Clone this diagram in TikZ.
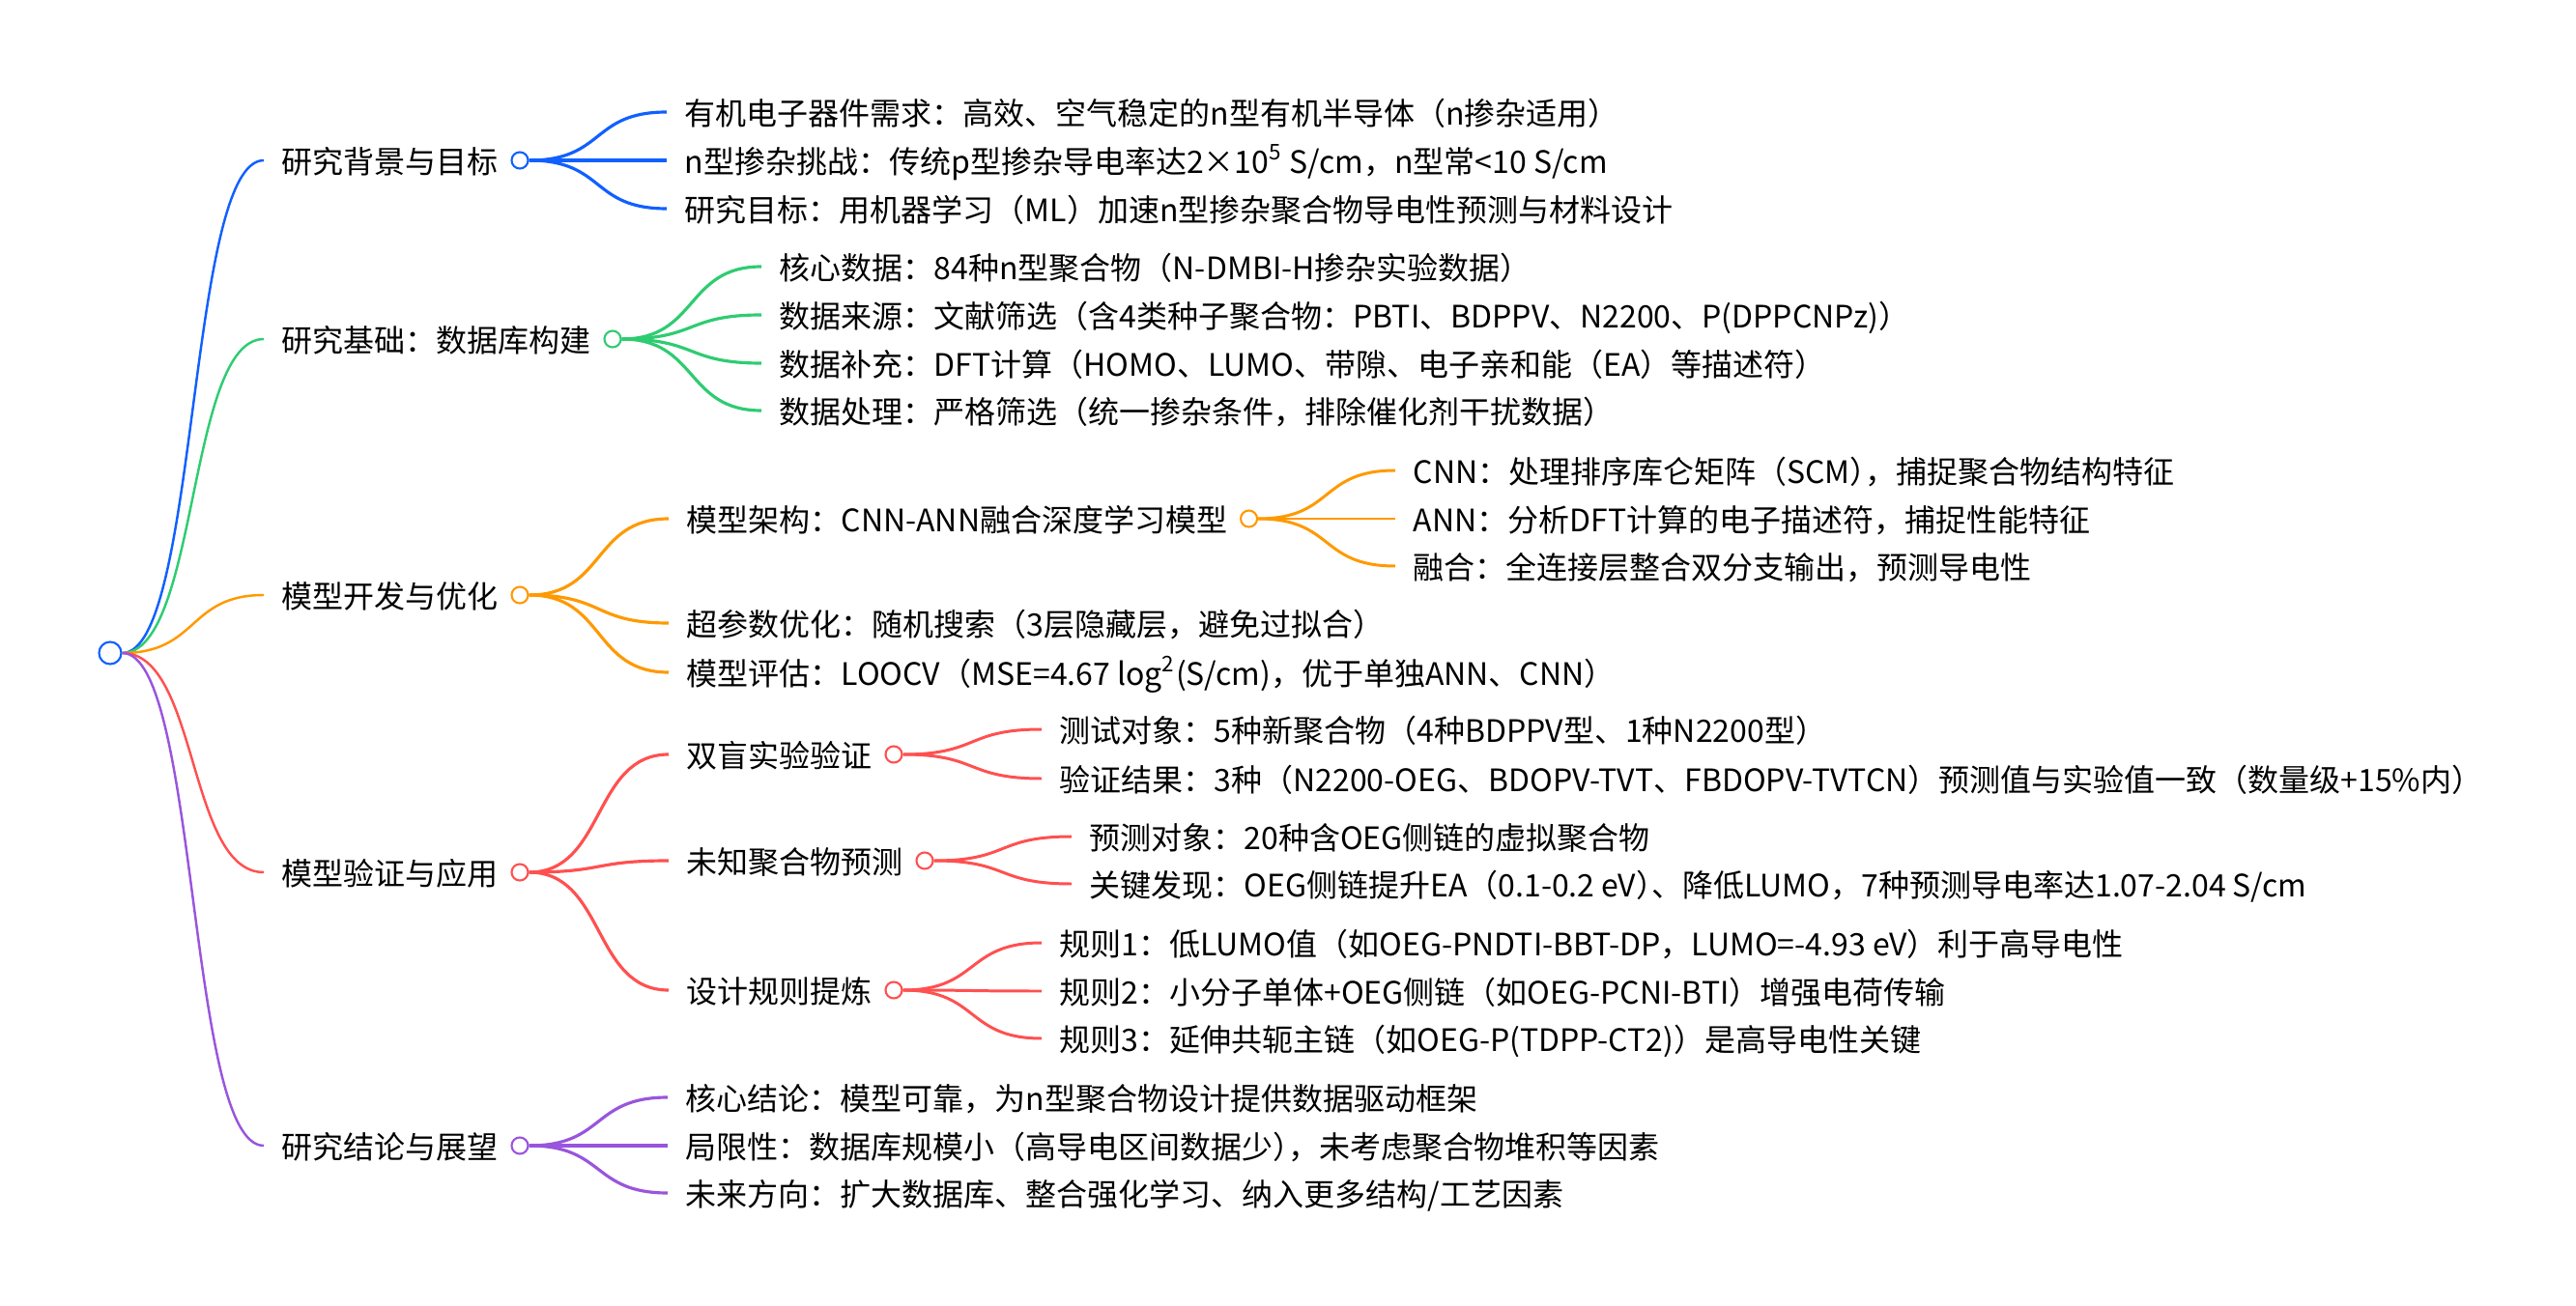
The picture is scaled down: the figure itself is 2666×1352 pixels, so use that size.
\documentclass[tikz,border=0pt]{standalone}
\usepackage{fontspec}
\setmainfont{Noto Sans CJK SC}
\usetikzlibrary{positioning}
\definecolor{mblue}{HTML}{1060FF}
\definecolor{mgreen}{HTML}{2ECC71}
\definecolor{morange}{HTML}{FF9900}
\definecolor{mred}{HTML}{FF5050}
\definecolor{mpurple}{HTML}{9955DD}
\tikzset{
	txt/.style={anchor=west, inner sep=0pt, text height=0.88em, text depth=0.12em, font=\fontsize{9.1}{10}\selectfont},
	knot/.style={circle, draw=#1, fill=white, line width=0.6pt, inner sep=0pt, minimum size=0.17cm},
	lnk/.style={draw=#1, line width=0.9pt},
}
\newcommand{\branch}[3]{\draw[#1] (#2.east) .. controls +(79,0) and +(-79,0) .. ([xshift=-0.18cm]#3.west);}
\newcommand{\pk}{\kern-0.5em}
\begin{document}
\begin{tikzpicture}[x=0.01cm, y=-0.01cm]
	\useasboundingbox (0,0) rectangle (2666,1352);
	\node[knot=mblue, minimum size=0.23cm] (root) at (114,676) {};
	% first level
	\node[txt] (bg) at (291,166) {研究背景与目标};
	\node[knot=mblue, right=0.12cm of bg] (bgo) {};
	\node[txt] (db) at (291,351) {研究基础：数据库构建};
	\node[knot=mgreen, right=0.12cm of db] (dbo) {};
	\node[txt] (dev) at (291,616) {模型开发与优化};
	\node[knot=morange, right=0.12cm of dev] (devo) {};
	\node[txt] (val) at (291,903) {模型验证与应用};
	\node[knot=mred, right=0.12cm of val] (valo) {};
	\node[txt] (con) at (291,1186) {研究结论与展望};
	\node[knot=mpurple, right=0.12cm of con] (cono) {};
	% background
	\node[txt] (bg1) at (708,116) {有机电子器件需求：高效、空气稳定的n型有机半导体（n掺杂适用）};
	\node[txt] (bg2) at (708,166) {n型掺杂挑战：传统p型掺杂导电率达2×10\textsuperscript{5} S/cm，n型常<10 S/cm};
	\node[txt] (bg3) at (708,216) {研究目标：用机器学习（ML）加速n型掺杂聚合物导电性预测与材料设计};
	% database
	\node[txt] (db1) at (806,276) {核心数据：84种n型聚合物（N-DMBI-H掺杂实验数据）};
	\node[txt] (db2) at (806,326) {数据来源：文献筛选（含4类种子聚合物：PBTI、BDPPV、N2200、P(DPPCNPz)）};
	\node[txt] (db3) at (806,376) {数据补充：DFT计算（HOMO、LUMO、带隙、电子亲和能（EA）等描述符）};
	\node[txt] (db4) at (806,425) {数据处理：严格筛选（统一掺杂条件，排除催化剂干扰数据）};
	% model
	\node[txt] (dev1) at (710,537) {模型架构：CNN-ANN融合深度学习模型};
	\node[knot=morange, right=0.12cm of dev1] (dev1o) {};
	\node[txt] (cnn) at (1462,487) {CNN：处理排序库仑矩阵（SCM）\pk，捕捉聚合物结构特征};
	\node[txt] (ann) at (1462,537) {ANN：分析DFT计算的电子描述符，捕捉性能特征};
	\node[txt] (fus) at (1462,586) {融合：全连接层整合双分支输出，预测导电性};
	\node[txt] (dev2) at (710,645) {超参数优化：随机搜索（3层隐藏层，避免过拟合）};
	\node[txt] (dev3) at (710,696) {模型评估：LOOCV（MSE=4.67 log\textsuperscript{2}(S/cm)，优于单独ANN、CNN）};
	% validation
	\node[txt] (val1) at (710,781) {双盲实验验证};
	\node[knot=mred, right=0.12cm of val1] (val1o) {};
	\node[txt] (val11) at (1096,755) {测试对象：5种新聚合物（4种BDPPV型、1种N2200型）};
	\node[txt] (val12) at (1096,806) {验证结果：3种（N2200-OEG、BDOPV-TVT、FBDOPV-TVTCN）预测值与实验值一致（数量级+15\%内）};
	\node[txt] (val2) at (710,891) {未知聚合物预测};
	\node[knot=mred, right=0.12cm of val2] (val2o) {};
	\node[txt] (val21) at (1127,866) {预测对象：20种含OEG侧链的虚拟聚合物};
	\node[txt] (val22) at (1127,915) {关键发现：OEG侧链提升EA（0.1-0.2 eV）\pk、降低LUMO，7种预测导电率达1.07-2.04 S/cm};
	\node[txt] (val3) at (710,1025) {设计规则提炼};
	\node[knot=mred, right=0.12cm of val3] (val3o) {};
	\node[txt] (val31) at (1096,976) {规则1：低LUMO值（如OEG-PNDTI-BBT-DP，LUMO=-4.93 eV）利于高导电性};
	\node[txt] (val32) at (1096,1026) {规则2：小分子单体+OEG侧链（如OEG-PCNI-BTI）增强电荷传输};
	\node[txt] (val33) at (1096,1075) {规则3：延伸共轭主链（如OEG-P(TDPP-CT2)）是高导电性关键};
	% conclusion
	\node[txt] (con1) at (709,1136) {核心结论：模型可靠，为n型聚合物设计提供数据驱动框架};
	\node[txt] (con2) at (709,1186) {局限性：数据库规模小（高导电区间数据少）\pk，未考虑聚合物堆积等因素};
	\node[txt] (con3) at (709,1235) {未来方向：扩大数据库、整合强化学习、纳入更多结构/工艺因素};
	% links
	\branch{lnk=mblue, line width=0.7pt}{root}{bg}
	\branch{lnk=mgreen, line width=0.7pt}{root}{db}
	\branch{lnk=morange, line width=0.7pt}{root}{dev}
	\branch{lnk=mred, line width=0.7pt}{root}{val}
	\branch{lnk=mpurple, line width=0.7pt}{root}{con}
	\foreach \n in {bg1,bg2,bg3} {\branch{lnk=mblue}{bgo}{\n}}
	\foreach \n in {db1,db2,db3,db4} {\branch{lnk=mgreen}{dbo}{\n}}
	\foreach \n in {dev1,dev2,dev3} {\branch{lnk=morange}{devo}{\n}}
	\foreach \n in {cnn,ann,fus} {\branch{lnk=morange, line width=0.85pt}{dev1o}{\n}}
	\foreach \n in {val1,val2,val3} {\branch{lnk=mred}{valo}{\n}}
	\foreach \n in {val11,val12} {\branch{lnk=mred, line width=0.85pt}{val1o}{\n}}
	\foreach \n in {val21,val22} {\branch{lnk=mred, line width=0.85pt}{val2o}{\n}}
	\foreach \n in {val31,val32,val33} {\branch{lnk=mred, line width=0.85pt}{val3o}{\n}}
	\foreach \n in {con1,con2,con3} {\branch{lnk=mpurple}{cono}{\n}}
\end{tikzpicture}
\end{document}
